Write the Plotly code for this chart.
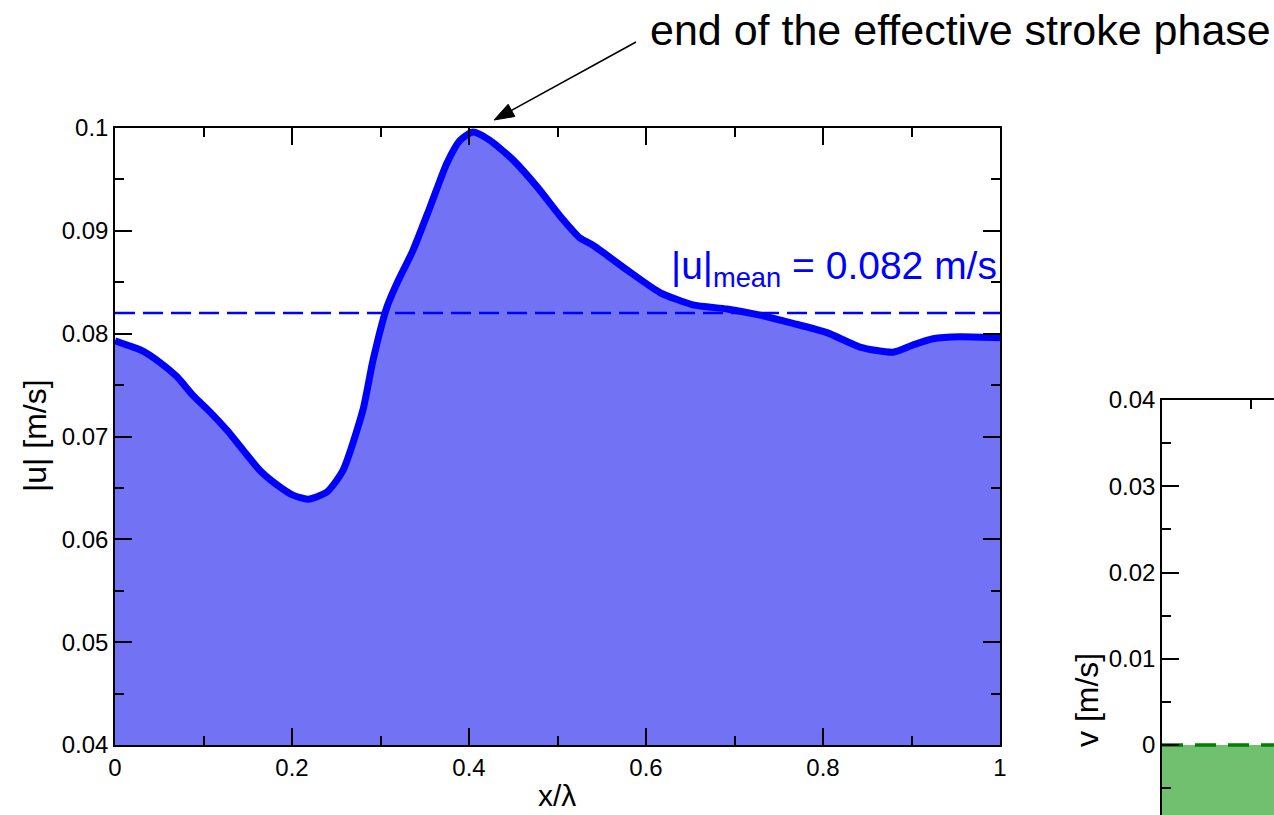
import plotly.graph_objects as go
import math

# |u| along the wavelength
x_u = [0.0, 0.0316, 0.0508, 0.0701, 0.0881, 0.1073, 0.1266, 0.1446, 0.1638, 0.1831,
       0.2011, 0.2181, 0.2395, 0.2576, 0.2802, 0.2915, 0.3073, 0.3186, 0.3367, 0.3559,
       0.3751, 0.3898, 0.4045, 0.4237, 0.4497, 0.4768, 0.5062, 0.5254, 0.5401, 0.5785,
       0.6158, 0.6531, 0.6915, 0.7288, 0.7661, 0.8045, 0.8418, 0.8791, 0.9017, 0.9243,
       0.9548, 1.0]
u_abs = [0.0793, 0.0783, 0.0772, 0.0758, 0.0740, 0.0724, 0.0706, 0.0687, 0.0667, 0.0653,
         0.0643, 0.0639, 0.0646, 0.0667, 0.0726, 0.0774, 0.0826, 0.0849, 0.0881, 0.0923,
         0.0966, 0.0988, 0.0996, 0.0988, 0.0969, 0.0943, 0.0911, 0.0893, 0.0886, 0.0862,
         0.0840, 0.0828, 0.0824, 0.0818, 0.0810, 0.0801, 0.0787, 0.0782, 0.0789, 0.0795,
         0.0797, 0.0796]
u_mean = 0.082

# v (right panel, only its upper-left corner is visible)
x_v = [0.0, 0.05, 0.1, 0.15]
v_vals = [-0.012, -0.013, -0.014, -0.015]
v_mean = 0.0

W, H = 1274, 815
BLUE = "#0000ff"
GREEN = "#008000"
FONT = "Liberation Sans, Arial, sans-serif"

fig = go.Figure()

# main panel
fig.add_trace(go.Scatter(x=x_u, y=u_abs, mode="lines", fill="tozeroy",
                         fillcolor="rgb(114,114,244)",
                         line=dict(color=BLUE, width=7, shape="spline", smoothing=0.6),
                         xaxis="x", yaxis="y", showlegend=False, hoverinfo="skip"))
fig.add_trace(go.Scatter(x=[0, 1], y=[u_mean, u_mean], mode="lines",
                         line=dict(color=BLUE, width=2.5, dash="20px,8px"),
                         xaxis="x", yaxis="y", showlegend=False, hoverinfo="skip"))

# right panel
fig.add_trace(go.Scatter(x=x_v, y=v_vals, mode="lines", fill="tozeroy",
                         fillcolor="rgb(112,192,112)",
                         line=dict(color=GREEN, width=5), xaxis="x2", yaxis="y2",
                         showlegend=False, hoverinfo="skip"))
fig.add_trace(go.Scatter(x=[0, 0.2], y=[v_mean, v_mean], mode="lines",
                         line=dict(color=GREEN, width=3.5, dash="21px,12px"),
                         xaxis="x2", yaxis="y2", showlegend=False, hoverinfo="skip"))

ax_common = dict(showline=True, linecolor="black", linewidth=1.5, ticks="inside",
                 ticklen=17, tickcolor="black", tickwidth=1.5, showgrid=False,
                 zeroline=False, automargin=False,
                 tickfont=dict(family=FONT, size=24, color="black"))
minor_common = dict(ticklen=9, ticks="inside", tickcolor="black", tickwidth=1.5)

fig.update_layout(
    width=W, height=H,
    margin=dict(l=0, r=0, t=0, b=0),
    paper_bgcolor="white", plot_bgcolor="white",
    xaxis=dict(domain=[115 / W, 1000 / W], range=[0, 1], dtick=0.2, tick0=0,
               mirror="ticks", anchor="y", minor=dict(dtick=0.1, **minor_common),
               **ax_common),
    yaxis=dict(domain=[(H - 745) / H, (H - 128) / H], range=[0.04, 0.1], dtick=0.01,
               tick0=0, mirror="ticks", anchor="x", minor=dict(dtick=0.005, **minor_common),
               **ax_common),
    xaxis2=dict(domain=[1162 / W, 1.0], range=[0, (W - 1162) / 885], dtick=0.2, tick0=0,
                side="top", anchor="y2", showticklabels=False,
                minor=dict(dtick=0.1, **minor_common), **ax_common),
    yaxis2=dict(domain=[0, (H - 400) / H], range=[-70 / 86.25 * 0.01, 0.04], dtick=0.01,
                tick0=0, anchor="x2", minor=dict(dtick=0.005, **minor_common),
                **ax_common),
)

# arrow pointing at the peak (shaft + filled head, in paper units)
hx, hy = 494, 120      # head tip (pixels)
tx, ty = 636, 42       # tail (pixels)
def px(x): return x / W
def py(y): return 1 - y / H
ang = math.atan2(ty - hy, tx - hx)
L, Wd = 20, 7
bx, by = hx + L * math.cos(ang), hy + L * math.sin(ang)
p1 = (bx + Wd * math.sin(ang), by - Wd * math.cos(ang))
p2 = (bx - Wd * math.sin(ang), by + Wd * math.cos(ang))
shapes = [
    dict(type="line", xref="paper", yref="paper", x0=px(tx), y0=py(ty), x1=px(bx), y1=py(by),
         line=dict(color="black", width=1.6)),
    dict(type="path", xref="paper", yref="paper",
         path=f"M {px(hx)} {py(hy)} L {px(p1[0])} {py(p1[1])} L {px(p2[0])} {py(p2[1])} Z",
         fillcolor="black", line=dict(color="black", width=1)),
]
fig.update_layout(shapes=shapes)

annotations = [
    dict(text="end of the effective stroke phase", x=960 / W, y=1 - 30 / H,
         xref="paper", yref="paper", xanchor="center", yanchor="middle",
         showarrow=False, font=dict(family=FONT, size=43, color="black")),
    dict(text="|u|<sub>mean</sub> = 0.082 m/s", x=999 / W, y=1 - 268 / H,
         xref="paper", yref="paper", xanchor="right", yanchor="middle",
         showarrow=False, font=dict(family=FONT, size=39, color=BLUE)),
    dict(text="x/λ", x=557 / W, y=1 - 795 / H, xref="paper", yref="paper",
         xanchor="center", yanchor="middle", showarrow=False,
         font=dict(family=FONT, size=30, color="black")),
    dict(text="|u| [m/s]", x=35 / W, y=1 - 436 / H, xref="paper", yref="paper",
         xanchor="center", yanchor="middle", textangle=-90, showarrow=False,
         font=dict(family=FONT, size=32, color="black")),
    dict(text="v [m/s]", x=1087 / W, y=1 - 700 / H, xref="paper", yref="paper",
         xanchor="center", yanchor="middle", textangle=-90, showarrow=False,
         font=dict(family=FONT, size=32, color="black")),
]
fig.update_layout(annotations=annotations)

fig.write_html("out.html")
